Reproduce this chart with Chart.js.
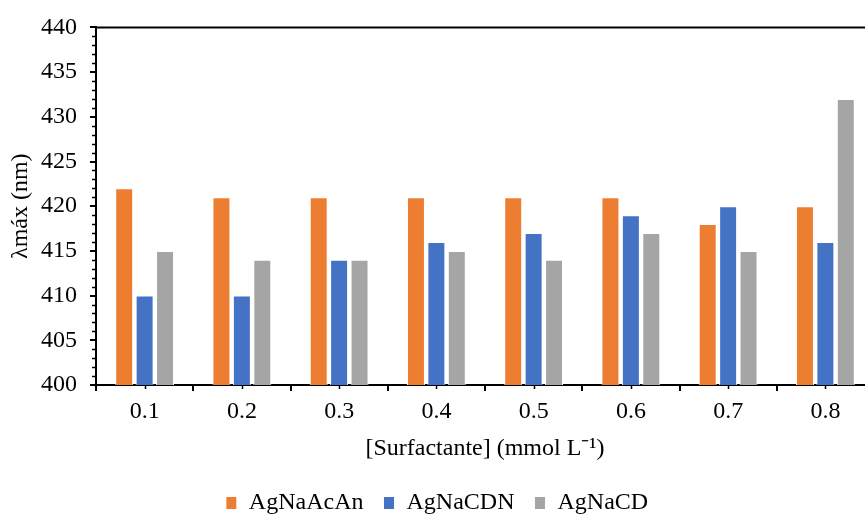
<!DOCTYPE html>
<html>
<head>
<meta charset="utf-8">
<script src="https://cdn.jsdelivr.net/npm/chart.js@4"></script>
<style>
  html, body { margin: 0; padding: 0; overflow: hidden; background: #fff; }
  #wrap { width: 875px; height: 516px; }
</style>
</head>
<body>
<div id="wrap"><canvas id="canvas"></canvas></div>
<script>
const categories = ["0.1", "0.2", "0.3", "0.4", "0.5", "0.6", "0.7", "0.8"];
const seriesNames = ["AgNaAcAn", "AgNaCDN", "AgNaCD"];
const agNaAcAn = [422, 421, 421, 421, 421, 421, 418, 420];
const agNaCDN = [410, 410, 414, 416, 417, 419, 420, 416];
const agNaCD = [415, 414, 414, 415, 414, 417, 415, 432];
const yMin = 400, yMax = 440, yStep = 5;

const serif = '"Liberation Serif", "Times New Roman", serif';

// minor ticks + top frame line
const extras = {
  id: 'extras',
  afterDraw(chart) {
    const ctx = chart.ctx;
    const area = chart.chartArea;
    const x = chart.scales.x, y = chart.scales.y;
    ctx.save();
    ctx.strokeStyle = '#000';
    ctx.lineWidth = 1.5;
    ctx.beginPath();
    for (let v = yMin + 1; v < yMax; v++) {
      if (v % yStep === 0) continue;
      const py = Math.round(y.getPixelForValue(v)) + 0.5;
      ctx.moveTo(area.left - 4, py);
      ctx.lineTo(area.left, py);
    }
    for (let i = 0; i < categories.length; i++) {
      const px = Math.round(x.getPixelForValue(i)) + 0.5;
      ctx.moveTo(px, area.bottom);
      ctx.lineTo(px, area.bottom + 4);
    }
    ctx.stroke();
    ctx.lineWidth = 2;
    ctx.beginPath();
    ctx.moveTo(area.left, area.top);
    ctx.lineTo(area.right, area.top);
    ctx.stroke();
    ctx.restore();
  }
};

let ctx = document.getElementById('canvas').getContext('2d');
new Chart(ctx, {
  type: 'bar',
  data: {
    labels: categories,
    datasets: [
      { label: seriesNames[0], data: agNaAcAn, backgroundColor: '#ED7D31' },
      { label: seriesNames[1], data: agNaCDN, backgroundColor: '#4472C4' },
      { label: seriesNames[2], data: agNaCD, backgroundColor: '#A5A5A5' }
    ]
  },
  options: {
    responsive: true,
    maintainAspectRatio: false,
    animation: false,
    datasets: {
      bar: {
        categoryPercentage: 0.63,
        barPercentage: 0.88,
        borderWidth: 1,
        borderColor: '#fff'
      }
    },
    layout: { padding: { left: 0, top: 27, right: 1, bottom: -9 } },
    plugins: {
      tooltip: { enabled: false },
      legend: {
        position: 'bottom',
        labels: {
          color: '#000',
          font: { family: serif, size: 24 },
          boxWidth: 11,
          boxHeight: 13,
          padding: 20
        }
      }
    },
    scales: {
      x: {
        offset: true,
        grid: { display: true, drawOnChartArea: false, offset: true, tickLength: 6, color: '#000', lineWidth: 2 },
        border: { display: true, color: '#000', width: 2 },
        ticks: { color: '#000', font: { family: serif, size: 24 }, padding: 6, maxRotation: 0 },
        title: {
          display: true,
          text: '[Surfactante] (mmol L⁻¹)',
          color: '#000',
          font: { family: serif, size: 24 },
          padding: { top: 2, bottom: 8 }
        },
        afterFit(scale) { scale.height = 86; }
      },
      y: {
        min: yMin,
        max: yMax,
        grid: { display: true, drawOnChartArea: false, tickLength: 6, color: '#000', lineWidth: 2 },
        border: { display: true, color: '#000', width: 2 },
        ticks: { stepSize: yStep, color: '#000', font: { family: serif, size: 24 }, padding: 13 },
        title: {
          display: true,
          text: 'λmáx (nm)',
          color: '#000',
          font: { family: serif, size: 24 },
          padding: { top: 6, bottom: 0 }
        },
        afterFit(scale) { scale.width = 96; }
      }
    }
  },
  plugins: [extras]
});
</script>
</body>
</html>
